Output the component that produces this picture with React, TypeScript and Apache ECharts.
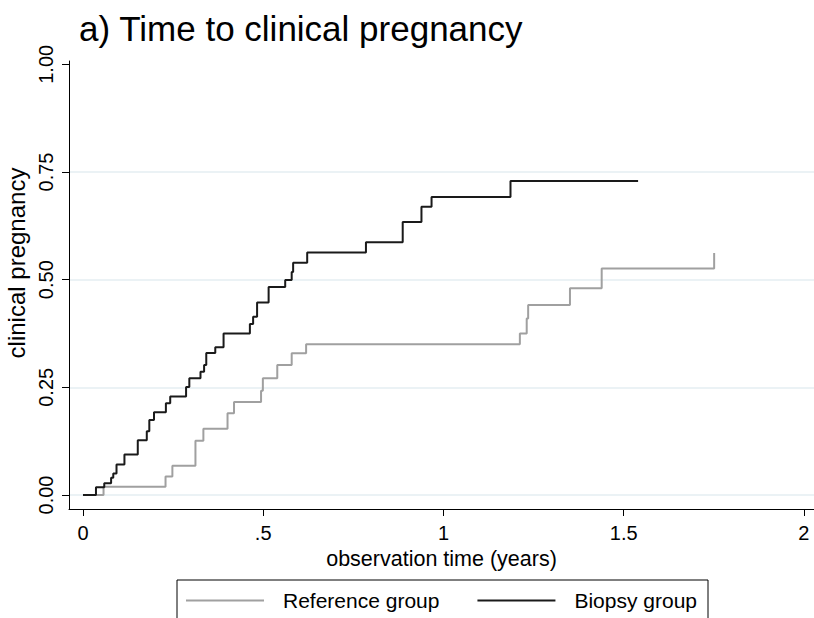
import React, { useEffect, useRef } from "react";
import * as echarts from "echarts";

// Kaplan–Meier failure estimates (time in years, cumulative probability)
const REF_T = [0, 0.057, 0.229, 0.248, 0.312, 0.334, 0.401, 0.419, 0.494, 0.499, 0.539, 0.579, 0.619, 1.212, 1.231, 1.235, 1.351, 1.439, 1.751];
const REF_V = [0, 0.019, 0.043, 0.068, 0.126, 0.154, 0.190, 0.216, 0.242, 0.271, 0.302, 0.329, 0.350, 0.375, 0.410, 0.441, 0.480, 0.526, 0.562];

const BIO_T = [0, 0.036, 0.059, 0.078, 0.084, 0.093, 0.115, 0.152, 0.177, 0.184, 0.197, 0.230, 0.242, 0.286, 0.295, 0.326, 0.336, 0.342, 0.367, 0.390, 0.463, 0.472, 0.483, 0.515, 0.561, 0.579, 0.583, 0.622, 0.785, 0.887, 0.939, 0.967, 1.186, 1.54];
const BIO_V = [0, 0.018, 0.027, 0.040, 0.050, 0.071, 0.094, 0.127, 0.148, 0.174, 0.192, 0.213, 0.229, 0.251, 0.271, 0.286, 0.302, 0.330, 0.343, 0.375, 0.397, 0.414, 0.447, 0.483, 0.499, 0.518, 0.539, 0.563, 0.587, 0.634, 0.669, 0.692, 0.729, 0.729];

const X_TICKS = [0, 0.5, 1, 1.5, 2];
const X_TICK_LABELS = ["0", ".5", "1", "1.5", "2"];
const Y_TICKS = [0, 0.25, 0.5, 0.75, 1];
const Y_TICK_LABELS = ["0.00", "0.25", "0.50", "0.75", "1.00"];

const SERIES_NAMES = ["Reference group", "Biopsy group"];
const TITLE = "a) Time to clinical pregnancy";
const X_NAME = "observation time (years)";
const Y_NAME = "clinical pregnancy";

const FONT = "'Liberation Sans', Arial, Helvetica, sans-serif";

export default function App() {
  const ref = useRef<HTMLDivElement>(null);

  useEffect(() => {
    if (!ref.current) return;
    const chart = echarts.init(ref.current, null, { renderer: "svg" });
    const refData = REF_T.map((t, i) => [t, REF_V[i]]);
    const bioData = BIO_T.map((t, i) => [t, BIO_V[i]]);

    chart.setOption({
      animation: false,
      backgroundColor: "#ffffff",
      textStyle: { fontFamily: FONT },
      title: {
        text: TITLE,
        left: 79,
        top: 11,
        padding: 0,
        textStyle: { fontFamily: FONT, fontSize: 35, fontWeight: "normal", color: "#000" },
      },
      grid: { left: 69, right: 0, top: 61, bottom: 109, containLabel: false, outerBoundsMode: "none" },
      legend: {
        data: SERIES_NAMES,
        left: 177,
        top: 580,
        orient: "horizontal",
        borderColor: "#000",
        borderWidth: 1,
        borderRadius: 0,
        padding: [10, 11, 16, 8],
        itemWidth: 78,
        itemHeight: 14,
        itemGap: 37,
        itemStyle: { opacity: 0, color: "transparent", borderWidth: 0 },
        textStyle: { fontFamily: FONT, fontSize: 21, color: "#000", padding: [0, 0, 0, 14] },
      },
      xAxis: {
        type: "value",
        min: -0.0388,
        max: 2.028,
        name: X_NAME,
        nameLocation: "middle",
        nameGap: 27,
        nameTextStyle: { fontFamily: FONT, fontSize: 21.5, color: "#000" },
        axisLine: { show: true, onZero: false, lineStyle: { color: "#000", width: 1 } },
        axisTick: { show: true, length: 7, customValues: X_TICKS, lineStyle: { color: "#000" } },
        axisLabel: {
          customValues: X_TICKS,
          margin: 14,
          fontFamily: FONT,
          fontSize: 20,
          color: "#000",
          formatter: (v: number) => X_TICK_LABELS[X_TICKS.indexOf(v)] ?? "",
        },
        splitLine: { show: false },
      },
      yAxis: {
        type: "value",
        min: -0.0325,
        max: 1.0077,
        name: Y_NAME,
        nameLocation: "middle",
        nameGap: 25,
        nameTextStyle: { fontFamily: FONT, fontSize: 24, color: "#000", padding: [0, 0, 0, 44] },
        axisLine: { show: true, onZero: false, lineStyle: { color: "#000", width: 1 } },
        axisTick: { show: true, length: 7, customValues: Y_TICKS, lineStyle: { color: "#000" } },
        axisLabel: {
          customValues: Y_TICKS,
          rotate: 90,
          margin: 13,
          fontFamily: FONT,
          fontSize: 20,
          color: "#000",
          formatter: (v: number) => Y_TICK_LABELS[Y_TICKS.indexOf(v)] ?? "",
        },
        splitLine: {
          show: true,
          showMinLine: true,
          showMaxLine: false,
          lineStyle: { color: "#e4eef2", width: 1.5 },
        },
      },
      series: [
        {
          name: SERIES_NAMES[0],
          type: "line",
          step: "end",
          symbol: "none",
          data: refData,
          lineStyle: { color: "#a0a0a0", width: 2 },
          itemStyle: { color: "#a0a0a0" },
          z: 2,
        },
        {
          name: SERIES_NAMES[1],
          type: "line",
          step: "end",
          symbol: "none",
          data: bioData,
          lineStyle: { color: "#1a1a1a", width: 2 },
          itemStyle: { color: "#1a1a1a" },
          z: 3,
        },
      ],
    });

    return () => chart.dispose();
  }, []);

  return (
    <div
      ref={ref}
      style={{ position: "fixed", left: 0, top: 0, width: 814, height: 618, background: "#fff" }}
    />
  );
}
